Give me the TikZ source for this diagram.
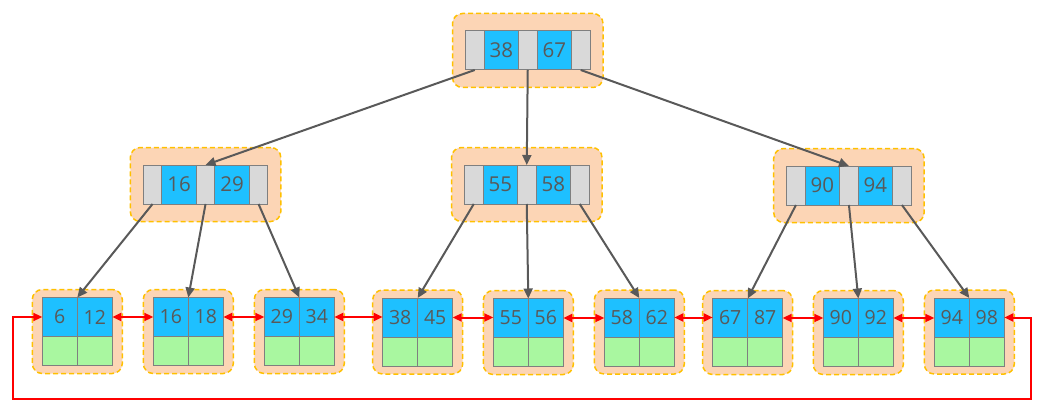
\documentclass[tikz,border=0pt]{standalone}
\usepackage{fontspec}
\setmainfont{Open Sans}
\usetikzlibrary{fit,backgrounds,arrows.meta}
\definecolor{cblue}{HTML}{1EC0FF}
\definecolor{cgray}{HTML}{D9D9D9}
\definecolor{cgreen}{HTML}{A9F7A0}
\definecolor{corange}{HTML}{FCD5B5}
\definecolor{cgold}{HTML}{FFC000}
\definecolor{cline}{HTML}{7F7F7F}
\definecolor{ctext}{HTML}{595959}
\definecolor{carrow}{HTML}{595959}
\tikzset{
 cell/.style={draw=cline, line width=1pt, inner sep=0pt, outer sep=0pt, minimum height=39pt, text=ctext, font=\fontsize{20.5}{24}\selectfont, anchor=north west},
 gcell/.style={cell, fill=cgray, minimum width=18.5pt},
 bcell/.style={cell, fill=cblue, minimum width=34.5pt},
 lcell/.style={cell, fill=cblue, minimum width=35pt, font=\fontsize{19.5}{24}\selectfont},
 grcell/.style={cell, fill=cgreen, minimum width=35pt, minimum height=29pt},
 box/.style={draw=cgold, fill=corange, dash pattern=on 5pt off 3pt, line width=1.5pt, rounded corners=10pt, inner xsep=13pt, inner ysep=17.5pt},
 lbox/.style={box, inner xsep=10pt, inner ysep=8pt},
 tree/.style={draw=carrow, line width=2pt, -{Triangle[length=10pt,width=9pt]}},
 link/.style={draw=red, line width=2pt, {Triangle[length=9pt,width=8pt]}-{Triangle[length=9pt,width=8pt]}},
}
\newcommand\inode[5]{%
 \node[gcell] (#1g1) at (#2,#3) {};
 \node[bcell] (#1b1) at (#1g1.north east) {#4};
 \node[gcell] (#1g2) at (#1b1.north east) {};
 \node[bcell] (#1b2) at (#1g2.north east) {#5};
 \node[gcell] (#1g3) at (#1b2.north east) {};
 \begin{scope}[on background layer]\node[box, fit=(#1g1)(#1g3)] (#1box) {};\end{scope}
}
\newcommand\lnode[5]{%
 \node[lcell] (#1a) at (#2,#3) {#4};
 \node[lcell] (#1b) at (#1a.north east) {#5};
 \node[grcell] (#1c) at (#1a.south west) {};
 \node[grcell] (#1d) at (#1c.north east) {};
 \begin{scope}[on background layer]\node[lbox, fit=(#1a)(#1d)] (#1box) {};\end{scope}
}
\begin{document}
\begin{tikzpicture}[x=1pt,y=-1pt]
\useasboundingbox (0,0) rectangle (1053,412);
\inode{r}{465.5}{31}{38}{67}
\inode{ml}{143.3}{165}{16}{29}
\inode{mc}{464.5}{165}{55}{58}
\inode{mr}{786.7}{166}{90}{94}
\lnode{la}{42.3}{297.5}{6}{12}
\lnode{lb}{153.3}{297.5}{16}{18}
\lnode{lc}{264.3}{297.5}{29}{34}
\lnode{ld}{382.7}{298}{38}{45}
\lnode{le}{493.3}{298.5}{55}{56}
\lnode{lf}{604.3}{298}{58}{62}
\lnode{lg}{712.7}{298.5}{67}{87}
\lnode{lh}{823.3}{298.5}{90}{92}
\lnode{li}{934.3}{298}{94}{98}
% tree pointers
\draw[tree] (rg1.south) -- (mlg2.north);
\draw[tree] (rg2.south) -- (mcg2.north);
\draw[tree] (rg3.south) -- (mrg2.north);
\draw[tree] (mlg1.south) -- (laa.north east);
\draw[tree] (mlg2.south) -- (lba.north east);
\draw[tree] (mlg3.south) -- (lca.north east);
\draw[tree] (mcg1.south) -- (lda.north east);
\draw[tree] (mcg2.south) -- (lea.north east);
\draw[tree] (mcg3.south) -- (lfa.north east);
\draw[tree] (mrg1.south) -- (lga.north east);
\draw[tree] (mrg2.south) -- (lha.north east);
\draw[tree] (mrg3.south) -- (lia.north east);
% leaf links
\draw[link] (lab.east) -- (lab.east -| lba.west);
\draw[link] (lbb.east) -- (lbb.east -| lca.west);
\draw[link] (lcb.east) -- (lcb.east -| lda.west);
\draw[link] (ldb.east) -- (ldb.east -| lea.west);
\draw[link] (leb.east) -- (leb.east -| lfa.west);
\draw[link] (lfb.east) -- (lfb.east -| lga.west);
\draw[link] (lgb.east) -- (lgb.east -| lha.west);
\draw[link] (lhb.east) -- (lhb.east -| lia.west);
\coordinate (loopr) at (1031,399);
\coordinate (loopl) at (12.7,399);
\draw[link] (lib.east) -| (loopr) -- (loopl) |- (laa.west);
\end{tikzpicture}
\end{document}
